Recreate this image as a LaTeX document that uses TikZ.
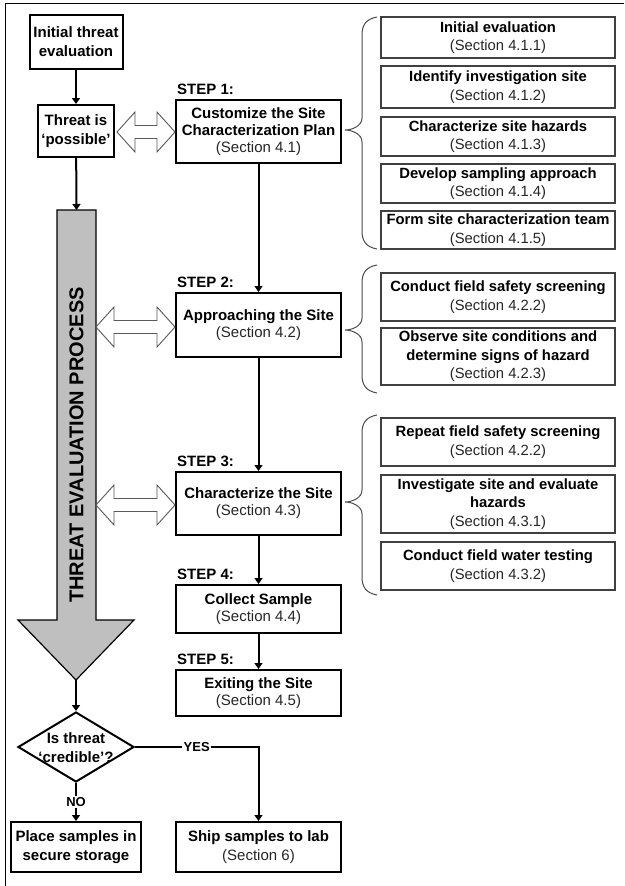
\documentclass[tikz,border=0pt]{standalone}
\usepackage{fontspec}
\setmainfont{Liberation Sans}
\usetikzlibrary{arrows.meta,shapes.geometric,calc}
\newcommand\mysec[1]{{\mdseries\color{black!85}#1}}
\newcommand\hollowarrow[2]{%
  \draw[draw=black!65, fill=white, line width=0.9pt] let \p1=(#1), \p2=(#2) in
    (\x1,\y1) -- (\x1+18pt,\y1+20pt) -- (\x1+18pt,\y1+6.5pt) -- (\x2-18pt,\y1+6.5pt)
    -- (\x2-18pt,\y1+20pt) -- (\x2,\y1) -- (\x2-18pt,\y1-20pt) -- (\x2-18pt,\y1-6.5pt)
    -- (\x1+18pt,\y1-6.5pt) -- (\x1+18pt,\y1-20pt) -- cycle;}
\newcommand\subbrace[3]{%
  \draw[black!70, line width=1pt] (377,#1) .. controls (366,#1+2) and (362,#1+8) .. (362,#1+18)
    -- (362,#2-12) .. controls (362,#2-4) and (352,#2) .. (345,#2)
    .. controls (352,#2) and (362,#2+4) .. (362,#2+12)
    -- (362,#3-18) .. controls (362,#3-8) and (366,#3-2) .. (377,#3);}
\begin{document}
\begin{tikzpicture}[x=1pt,y=-1pt,
  mainbox/.style={draw=black, line width=2pt, fill=white, align=center, inner sep=0pt,
    font=\fontsize{15}{17}\selectfont\bfseries},
  subbox/.style={draw=black!75, line width=1.2pt, align=center, inner sep=0pt,
    minimum width=234pt, font=\fontsize{14.8}{18.5}\selectfont\bfseries},
  steplabel/.style={anchor=base west, inner sep=0pt, font=\fontsize{15}{17}\selectfont\bfseries},
  conn/.style={line width=2pt, -{Triangle[width=8pt,length=6pt]}},
  edgelabel/.style={fill=white, inner sep=1.5pt, font=\fontsize{13}{15}\selectfont\bfseries}]
\useasboundingbox (0,0) rectangle (624,886);
\fill[white] (0,0) rectangle (624,886);
% frame
\draw[line width=1pt] (5,886) -- (5,3) -- (624,3);

% left column
\node[mainbox, minimum width=93pt, minimum height=54pt, font=\fontsize{15}{19}\selectfont\bfseries] (init) at (76,42) {Initial threat\\evaluation};
\node[mainbox, minimum width=76pt, minimum height=52pt, font=\fontsize{15}{19}\selectfont\bfseries] (poss) at (76,131) {Threat is\\‘possible’};

% gray process arrow
\coordinate (gtop) at (76.5,210);
\coordinate (gtip) at (76,680);
\coordinate (gR) at (96,210);
\draw[fill=black!25, line width=1.2pt] (57,210) -- (96,210) -- (96,620) -- (134,620) -- (gtip) -- (18,620) -- (57,620) -- cycle;
\node[rotate=90, font=\fontsize{20}{22}\selectfont\bfseries] (gtext) at (76.5,445) {THREAT EVALUATION PROCESS};

% steps
\node[mainbox, minimum width=165pt, minimum height=63pt] (s1) at (258.5,131.5) {Customize the Site\\Characterization Plan\\\mysec{(Section 4.1)}};
\node[mainbox, minimum width=165pt, minimum height=64pt] (s2) at (258.5,325) {Approaching the Site\\\mysec{(Section 4.2)}};
\node[mainbox, minimum width=165pt, minimum height=63pt] (s3) at (258.5,503.5) {Characterize the Site\\\mysec{(Section 4.3)}};
\node[mainbox, minimum width=165pt, minimum height=48pt] (s4) at (258.5,609) {Collect Sample\\\mysec{(Section 4.4)}};
\node[mainbox, minimum width=165pt, minimum height=46pt] (s5) at (258.5,693) {Exiting the Site\\\mysec{(Section 4.5)}};

\node[steplabel] (l1) at ($(s1.north west)+(2,-5)$) {STEP 1:};
\node[steplabel] (l2) at ($(s2.north west)+(2,-5)$) {STEP 2:};
\node[steplabel] (l3) at ($(s3.north west)+(2,-5)$) {STEP 3:};
\node[steplabel] (l4) at ($(s4.north west)+(2,-5)$) {STEP 4:};
\node[steplabel] (l5) at ($(s5.north west)+(2,-5)$) {STEP 5:};

% decision
\node[diamond, draw, line width=2pt, fill=white, minimum width=116pt, minimum height=70pt, inner sep=0pt] (dia) at (76,747) {};
\node[align=center, inner sep=0pt, font=\fontsize{15}{19}\selectfont\bfseries] (diatext) at (76,747.5) {Is threat\\‘credible’?};
\node[mainbox, minimum width=130pt, minimum height=50pt, font=\fontsize{15}{19}\selectfont\bfseries] (place) at (76,847) {Place samples in\\secure storage};
\node[mainbox, minimum width=165pt, minimum height=50pt, font=\fontsize{15}{19}\selectfont\bfseries] (ship) at (258.5,847) {Ship samples to lab\\\mysec{(Section 6)}};

% sub tasks step 1
\node[subbox, minimum height=41pt] (a1) at (498,37.5) {Initial evaluation\\\mysec{(Section 4.1.1)}};
\node[subbox, minimum height=42pt] (a2) at (498,87) {Identify investigation site\\\mysec{(Section 4.1.2)}};
\node[subbox, minimum height=39pt] (a3) at (498,136.5) {Characterize site hazards\\\mysec{(Section 4.1.3)}};
\node[subbox, minimum height=39pt] (a4) at (498,183.5) {Develop sampling approach\\\mysec{(Section 4.1.4)}};
\node[subbox, minimum height=38pt] (a5) at (498,230) {Form site characterization team\\\mysec{(Section 4.1.5)}};
% sub tasks step 2
\node[subbox, minimum height=48pt] (b1) at (498,297) {Conduct field safety screening\\\mysec{(Section 4.2.2)}};
\node[subbox, minimum height=57pt] (b2) at (498,356.5) {Observe site conditions and\\determine signs of hazard\\\mysec{(Section 4.2.3)}};
% sub tasks step 3
\node[subbox, minimum height=48pt] (c1) at (498,442) {Repeat field safety screening\\\mysec{(Section 4.2.2)}};
\node[subbox, minimum height=58pt] (c2) at (498,504) {Investigate site and evaluate\\hazards\\\mysec{(Section 4.3.1)}};
\node[subbox, minimum height=48pt] (c3) at (498,566) {Conduct field water testing\\\mysec{(Section 4.3.2)}};

% braces
\subbrace{17}{130}{249}
\subbrace{265}{330}{393}
\subbrace{415}{502}{595}

% hollow double arrows
\coordinate (h1l) at ($(poss.east)+(2,1)$);
\coordinate (h1r) at (s1.west |- h1l);
\hollowarrow{h1l}{h1r}
\coordinate (h2l) at ($(gR |- s2.west)+(0,2)$);
\coordinate (h2r) at (s2.west |- h2l);
\hollowarrow{h2l}{h2r}
\coordinate (h3l) at ($(gR |- s3.west)+(0,1.5)$);
\coordinate (h3r) at (s3.west |- h3l);
\hollowarrow{h3l}{h3r}

% connectors
\draw[conn] (init) -- (poss);
\draw[conn] (poss) -- (gtop);
\draw[conn] (s1) -- (s2);
\draw[conn] (s2) -- (s3);
\draw[conn] (s3) -- (s4);
\draw[conn] (s4) -- (s5);
\draw[conn] (gtip) -- (dia);
\draw[conn] (dia.east) -| node[edgelabel, pos=0.25] {YES} (ship.north);
\draw[conn] (dia.south) -- node[edgelabel] {NO} (place.north);
\end{tikzpicture}
\end{document}
